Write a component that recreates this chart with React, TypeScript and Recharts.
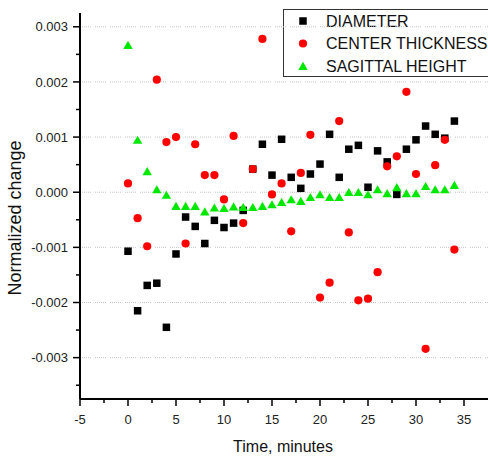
import React from 'react';
import { ScatterChart, Scatter, XAxis, YAxis, ReferenceLine } from 'recharts';

const times = [0, 1, 2, 3, 4, 5, 6, 7, 8, 9, 10, 11, 12, 13, 14, 15, 16, 17, 18, 19, 20, 21, 22, 23, 24, 25, 26, 27, 28, 29, 30, 31, 32, 33, 34];

const diameter = [
  -0.00107, -0.00215, -0.00169, -0.00165, -0.00245, -0.00112, -0.00045, -0.00062, -0.00093, -0.00051,
  -0.00064, -0.00056, -0.00033, 0.00042, 0.00087, 0.00031, 0.00096, 0.00027, 0.00007, 0.00033,
  0.00051, 0.00105, 0.00027, 0.00078, 0.00085, 0.00009, 0.00075, 0.00055, -0.00004, 0.00078,
  0.00095, 0.0012, 0.00105, 0.00098, 0.00129,
];

const centerThickness = [
  0.00016, -0.00047, -0.00098, 0.00204, 0.00091, 0.001, -0.00093, 0.00087, 0.00031, 0.00031,
  -0.00013, 0.00102, -0.00056, 0.00042, 0.00278, -0.00004, 0.00016, -0.00071, 0.00035, 0.00104,
  -0.00191, -0.00164, 0.00129, -0.00073, -0.00196, -0.00193, -0.00145, 0.00047, 0.00065, 0.00182,
  0.00033, -0.00284, 0.00049, 0.00095, -0.00104,
];

const sagittalHeight = [
  0.00267, 0.00095, 0.00038, 0.00005, -0.00005, -0.00025, -0.00025, -0.00025, -0.00035, -0.00028,
  -0.00029, -0.00026, -0.00027, -0.00027, -0.00025, -0.00022, -0.00018, -0.00013, -0.00016, -0.00009,
  -0.00004, -0.00009, -0.00009, 0.0, 0.0, -0.00004, 0.00005, -0.00002, 0.00009, -0.00002,
  -0.00002, 0.00011, 0.00005, 0.00005, 0.00013,
];

const seriesNames = ['DIAMETER', 'CENTER THICKNESS', 'SAGITTAL HEIGHT'];
const seriesColors = ['#000000', '#ff0000', '#00e800'];
const seriesShapes = ['square', 'circle', 'triangle'];

const xTicks = [-5, -2.5, 0, 2.5, 5, 7.5, 10, 12.5, 15, 17.5, 20, 22.5, 25, 27.5, 30, 32.5, 35];
const xMajor = [-5, 0, 5, 10, 15, 20, 25, 30, 35];
const yTicks = [-0.0035, -0.003, -0.0025, -0.002, -0.0015, -0.001, -0.0005, 0, 0.0005, 0.001, 0.0015, 0.002, 0.0025, 0.003];
const yMajor = [-0.003, -0.002, -0.001, 0, 0.001, 0.002, 0.003];

const FONT = '"Liberation Sans", Arial, Helvetica, sans-serif';

const toPoints = (vals: number[]) => times.map((t, i) => ({ x: t, y: vals[i] }));
const seriesData = [toPoints(diameter), toPoints(centerThickness), toPoints(sagittalHeight)];

const Marker = ({ kind, cx, cy, color }: { kind: string; cx: number; cy: number; color: string }) => {
  if (kind === 'square') {
    return <rect x={cx - 3.75} y={cy - 3.75} width={7.5} height={7.5} fill={color} />;
  }
  if (kind === 'circle') {
    return <circle cx={cx} cy={cy} r={4.1} fill={color} />;
  }
  return (
    <polygon
      points={`${cx},${cy - 4.2} ${cx - 4.7},${cy + 3.9} ${cx + 4.7},${cy + 3.9}`}
      fill={color}
    />
  );
};

const isMajorY = (v: number) => yMajor.some((m) => Math.abs(m - v) < 1e-9);
const isMajorX = (v: number) => xMajor.some((m) => Math.abs(m - v) < 1e-9);

const YTick = (props: any) => {
  const { x, y, payload } = props;
  const v = payload.value as number;
  const major = isMajorY(v);
  return (
    <g>
      <line x1={x - (major ? 7 : 4)} x2={x} y1={y} y2={y} stroke="#000" strokeWidth={1.5} />
      {major && (
        <text x={x - 12} y={y} dy="0.36em" textAnchor="end" fontSize={13} fontFamily={FONT} fill="#222">
          {v.toFixed(3)}
        </text>
      )}
    </g>
  );
};

const XTick = (props: any) => {
  const { x, y, payload } = props;
  const v = payload.value as number;
  const major = isMajorX(v);
  return (
    <g>
      <line x1={x} x2={x} y1={y} y2={y + (major ? 7 : 4)} stroke="#000" strokeWidth={1.5} />
      {major && (
        <text x={x} y={y + 20} dy="0.36em" textAnchor="middle" fontSize={13} fontFamily={FONT} fill="#222">
          {String(v)}
        </text>
      )}
    </g>
  );
};

export default function App() {
  return (
    <div style={{ position: 'absolute', left: 0, top: 0, width: 488, height: 459, overflow: 'hidden', background: '#fff' }}>
      <ScatterChart width={488} height={459} margin={{ top: 13, right: 0, bottom: 0, left: 0 }}>
        {yMajor.map((v) => (
          <ReferenceLine
            key={v}
            y={v}
            stroke="#c4c4c4"
            strokeWidth={1}
            strokeDasharray="1 1 1 1 1 1 1 1 1 1 1 4"
          />
        ))}
        <XAxis
          type="number"
          dataKey="x"
          domain={[-5, 37.5]}
          ticks={xTicks}
          interval={0}
          height={60}
          tickSize={0}
          tickMargin={0}
          tickLine={false}
          tick={<XTick />}
          axisLine={{ stroke: '#000', strokeWidth: 2 }}
          allowDataOverflow
        />
        <YAxis
          type="number"
          dataKey="y"
          domain={[-0.00375, 0.00325]}
          ticks={yTicks}
          interval={0}
          width={80}
          tickSize={0}
          tickMargin={0}
          tickLine={false}
          tick={<YTick />}
          axisLine={{ stroke: '#000', strokeWidth: 2 }}
          allowDataOverflow
        />
        {seriesData.map((d, i) => (
          <Scatter
            key={seriesNames[i]}
            name={seriesNames[i]}
            data={d}
            fill={seriesColors[i]}
            isAnimationActive={false}
            shape={(p: any) => <Marker kind={seriesShapes[i]} cx={p.cx} cy={p.cy} color={seriesColors[i]} />}
          />
        ))}
        <text
          x={21}
          y={218}
          transform="rotate(-90 21 218)"
          textAnchor="middle"
          fontSize={18}
          fontFamily={FONT}
          fill="#111"
        >
          Normalized change
        </text>
        <text x={283} y={452} textAnchor="middle" fontSize={16} fontFamily={FONT} fill="#111">
          Time, minutes
        </text>
        <g>
          <rect x={283.5} y={9.5} width={230} height={67} fill="#fff" stroke="#333" strokeWidth={1} />
          {seriesNames.map((name, i) => (
            <g key={name}>
              <Marker kind={seriesShapes[i]} cx={303} cy={21 + i * 22.5} color={seriesColors[i]} />
              <text x={326} y={21 + i * 22.5} dy="0.36em" fontSize={16} fontFamily={FONT} fill="#111">
                {name}
              </text>
            </g>
          ))}
        </g>
      </ScatterChart>
    </div>
  );
}
